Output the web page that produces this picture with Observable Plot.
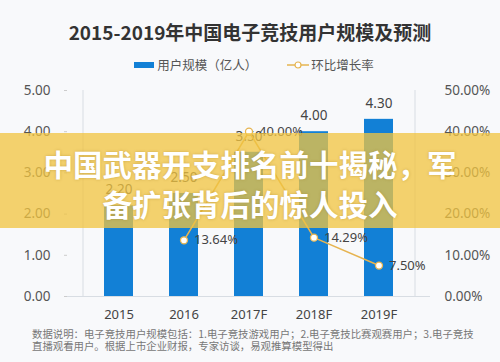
<!DOCTYPE html>
<html><head><meta charset="utf-8">
<script src="https://cdn.jsdelivr.net/npm/d3@7"></script>
<script src="https://cdn.jsdelivr.net/npm/@observablehq/plot@0.6"></script>
<style>
body{margin:0;}
#wrap{position:relative;width:500px;height:362px;background:#f8f9fb;overflow:hidden;font-family:"Noto Sans CJK SC","Noto Sans",sans-serif;}
#title{position:absolute;top:18px;left:0;width:500px;text-align:center;font-size:19px;font-weight:bold;color:#333;}
#legend{position:absolute;top:53px;left:4px;width:500px;text-align:center;font-size:12.5px;color:#555;}
#legend span{display:inline-block;vertical-align:middle;}
#chart{position:absolute;top:70px;left:0;}
#footer{position:absolute;top:328px;left:32px;width:452px;font-size:10.4px;line-height:12px;color:#777;}
#banner{position:absolute;top:133px;left:0;width:500px;height:95px;background:rgba(240,196,64,0.76);text-align:center;color:#fff;font-weight:bold;font-size:29.5px;line-height:40px;padding-top:10px;box-sizing:border-box;text-shadow:0 0 3px rgba(150,110,20,0.4);}
</style></head>
<body><div id="wrap">
<div id="title"></div>
<div id="legend"></div>
<div id="chart"></div>
<div id="footer"></div>
<div id="banner"></div>
</div>
<script>
const title = "2015-2019年中国电子竞技用户规模及预测";
const years = ["2015","2016","2017F","2018F","2019F"];
const users = [2.20, 2.50, 3.50, 4.00, 4.30];
const growthYears = ["2016","2017F","2018F","2019F"];
const growth = [13.64, 40.00, 14.29, 7.50];
const leftTicks = [0,1,2,3,4,5];
const rightTicks = [0,10,20,30,40,50];
const legendLabels = ["用户规模（亿人）","环比增长率"];
const footerLines = ["数据说明：电子竞技用户规模包括：1.电子竞技游戏用户；2.电子竞技比赛观赛用户；3.电子竞技","直播观看用户。根据上市企业财报，专家访谈，易观推算模型得出"];
const banner = ["中国武器开支排名前十揭秘，军","备扩张背后的惊人投入"];

document.getElementById("title").textContent = title;
document.getElementById("footer").innerHTML = footerLines.join("<br>");
document.getElementById("banner").innerHTML = banner.join("<br>");
document.getElementById("legend").innerHTML =
  `<span style="width:20px;height:6px;background:#1280d6;margin-right:3px"></span><span>${legendLabels[0]}</span>` +
  `<span style="width:30px"></span>` +
  `<span><svg width="22" height="10"><line x1="0" y1="5" x2="22" y2="5" stroke="#e6b450" stroke-width="1.5"/><circle cx="11" cy="5" r="3" fill="#fff" stroke="#e6b450" stroke-width="1.2"/></svg></span><span style="margin-left:2px">${legendLabels[1]}</span>`;

const barData = years.map((y,i)=>({year:y, v:users[i]}));
const lineData = growthYears.map((y,i)=>({year:y, g:growth[i], s:growth[i]/10}));

const chart = Plot.plot({
  width: 500, height: 258,
  marginTop: 20, marginBottom: 32, marginLeft: 67, marginRight: 70,
  style: {background:"transparent", fontFamily:"'Noto Sans','Noto Sans CJK SC',sans-serif", fontSize:"13px", color:"#555"},
  x: {domain: years, padding: 0.55, label: null},
  y: {domain: [0,5], label: null},
  marks: [
    Plot.ruleX([years[0]], {dx:-36, stroke:"#d8dde3"}),
    Plot.ruleX([years[4]], {dx:36, stroke:"#d8dde3"}),
    Plot.ruleY([0], {stroke:"#d8dde3"}),
    Plot.axisX({tickSize:0, tickPadding:13, fill:"#444", fontSize:13}),
    Plot.axisY(leftTicks, {anchor:"left", tickSize:3, tickPadding:14, stroke:"#ccc", fill:"#555", tickFormat:d=>d.toFixed(2), fontSize:13.5}),
    Plot.axisY(rightTicks.map(d=>d/10), {anchor:"right", tickSize:0, tickPadding:14, fill:"#555", tickFormat:d=>(d*10).toFixed(2)+"%", fontSize:13.5}),
    Plot.barY(barData, {x:"year", y:"v", fill:"#1280d6"}),
    Plot.text(barData, {x:"year", y:"v", text:d=>d.v.toFixed(2), dy:-16, fill:"#444", fontSize:13.5}),
    Plot.line(lineData, {x:"year", y:"s", stroke:"#e6b450", strokeWidth:1.6}),
    Plot.dot(lineData, {x:"year", y:"s", r:3.5, fill:"#fff", stroke:"#e6b450", strokeWidth:1.3}),
    Plot.text(lineData, {x:"year", y:"s", text:d=>d.g.toFixed(2)+"%", textAnchor:"start", dx:10, fill:"#444", fontSize:13})
  ]
});
document.getElementById("chart").appendChild(chart);
</script>
</body></html>
